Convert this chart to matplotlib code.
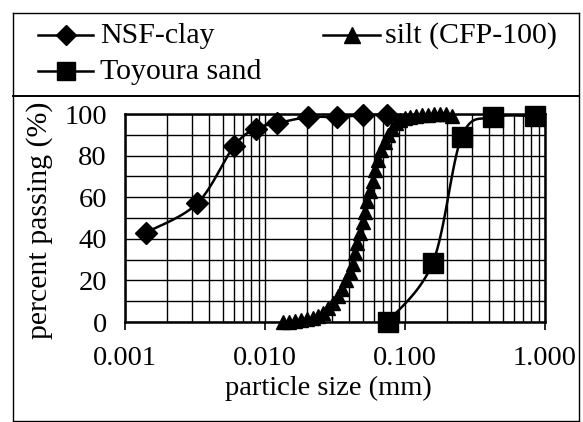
import numpy as np
import matplotlib
matplotlib.use("Agg")
import matplotlib.pyplot as plt
from matplotlib.lines import Line2D
from matplotlib.ticker import FixedLocator, FixedFormatter, NullFormatter

# ---------------- data ----------------
clay_size = [0.00141, 0.00328, 0.0060, 0.0086, 0.0121, 0.0204, 0.0328, 0.0499, 0.0740]
clay_pass = [43.0, 57.0, 84.5, 93.0, 95.5, 98.5, 98.5, 99.5, 99.5]

silt_size = [0.01345, 0.01484, 0.01637, 0.01806, 0.01993, 0.02202, 0.02393, 0.02597,
             0.02818, 0.03060, 0.03322, 0.03548, 0.03791, 0.04016, 0.04218, 0.04394,
             0.04578, 0.04773, 0.04972, 0.05179, 0.05396, 0.05623, 0.05860, 0.06105,
             0.06412, 0.06745, 0.07142, 0.07563, 0.08073, 0.08623, 0.09209, 0.1000,
             0.1086, 0.1199, 0.1322, 0.1459, 0.1611, 0.1778, 0.1963, 0.2169]
silt_pass = [0.0, 0.0, 0.5, 1.0, 1.5, 2.0, 3.0, 4.5,
             6.5, 9.0, 12.5, 16.0, 20.0, 24.0, 28.0, 33.0,
             38.0, 43.0, 48.0, 53.0, 58.0, 63.0, 68.0, 73.0,
             78.0, 82.5, 86.5, 90.0, 93.0, 95.5, 97.0, 98.0,
             98.5, 99.0, 99.5, 99.5, 100.0, 100.0, 100.0, 99.0]

sand_size = [0.075, 0.158, 0.254, 0.423, 0.850]
sand_pass = [0.0, 28.6, 89.0, 98.4, 99.0]

x_ticks = [0.001, 0.01, 0.1, 1.0]
x_tick_labels = ["0.001", "0.010", "0.100", "1.000"]
y_ticks = [0, 20, 40, 60, 80, 100]
y_tick_labels = ["0", "20", "40", "60", "80", "100"]
series_names = ["NSF-clay", "silt (CFP-100)", "Toyoura sand"]

# ---------------- figure ----------------
W, H = 583, 422
plt.rcParams['font.family'] = ['Liberation Serif', 'DejaVu Serif']
fig = plt.figure(figsize=(W / 100, H / 100), dpi=100)

def fx(x):
    return x / W

def fy(y):
    return 1 - y / H

ax_l, ax_r, ax_t, ax_b = 125, 545, 114, 322
ax = fig.add_axes([fx(ax_l), fy(ax_b), (ax_r - ax_l) / W, (ax_b - ax_t) / H])
ax.set_xscale('log')
ax.set_xlim(0.001, 1.0)
ax.set_ylim(0, 100)

AXW, AXH = ax_r - ax_l, ax_b - ax_t

def smooth(xs, ys, n=30):
    # Catmull-Rom (Excel-like smoothing) computed in pixel-like space
    U = (np.log10(np.asarray(xs)) + 3) * AXW / 3.0
    V = np.asarray(ys) * AXH / 100.0
    P = np.column_stack([U, V])
    P = np.vstack([P[0], P, P[-1]])
    out = []
    t = np.linspace(0, 1, n)
    for i in range(1, len(P) - 2):
        p0, p1, p2, p3 = P[i - 1], P[i], P[i + 1], P[i + 2]
        c1 = p1 + (p2 - p0) / 6.0
        c2 = p2 - (p3 - p1) / 6.0
        seg = ((1 - t)[:, None] ** 3 * p1 + 3 * ((1 - t) ** 2 * t)[:, None] * c1
               + 3 * ((1 - t) * t ** 2)[:, None] * c2 + (t ** 3)[:, None] * p2)
        out.append(seg)
    S = np.vstack(out)
    return 10 ** (S[:, 0] * 3.0 / AXW - 3), S[:, 1] * 100.0 / AXH

lw = 1.8
for xs, ys, mk, ms in [(clay_size, clay_pass, 'D', 11.5),
                       (silt_size, silt_pass, '^', 10.5),
                       (sand_size, sand_pass, 's', 15)]:
    sx, sy = smooth(xs, ys)
    ax.plot(sx, sy, color='black', lw=lw, zorder=3, clip_on=False)
    ax.plot(xs, ys, linestyle='none', marker=mk, ms=ms, color='black',
            mec='black', zorder=4, clip_on=False)

# grid
ax.xaxis.set_major_locator(FixedLocator(x_ticks))
ax.xaxis.set_major_formatter(FixedFormatter(x_tick_labels))
ax.xaxis.set_minor_formatter(NullFormatter())
ax.yaxis.set_major_locator(FixedLocator(y_ticks))
ax.yaxis.set_major_formatter(FixedFormatter(y_tick_labels))
ax.yaxis.set_minor_locator(FixedLocator([10, 30, 50, 70, 90]))
ax.grid(True, which='both', color='black', lw=1.0)
ax.set_axisbelow(True)
for s in ax.spines.values():
    s.set_linewidth(1.8)
ax.tick_params(axis='x', which='major', direction='out', length=6, width=1.2,
               labelsize=20.5, pad=11)
ax.tick_params(axis='x', which='minor', length=0)
ax.tick_params(axis='y', which='both', length=0, labelsize=20.5, pad=13)

fig.text(fx(328), fy(388), "particle size (mm)", ha='center', va='center', fontsize=20.5)
fig.text(fx(40), fy(220), "percent passing (%)", ha='center', va='center',
         rotation=90, fontsize=21.5)

# outer frame and legend separator
frame_kw = dict(color='black', lw=1.0, transform=fig.transFigure)
fig.add_artist(Line2D([fx(13), fx(579)], [fy(13), fy(13)], **frame_kw))
fig.add_artist(Line2D([fx(13), fx(13)], [fy(13), fy(421)], **frame_kw))
fig.add_artist(Line2D([fx(579), fx(579)], [fy(13), fy(421)], **frame_kw))
fig.add_artist(Line2D([fx(13), fx(579)], [fy(421), fy(421)], **frame_kw))
fig.add_artist(Line2D([fx(13), fx(579)], [fy(96), fy(96)], color='black', lw=1.4,
                      transform=fig.transFigure))

# legend (manual)
leg_entries = [(series_names[0], 'D', 10, 38, 93, 35, 100),
               (series_names[1], '^', 12, 323, 380, 35, 385),
               (series_names[2], 's', 13, 38, 93, 71, 100)]
for name, mk, ms, x0, x1, y, tx in leg_entries:
    fig.add_artist(Line2D([fx(x0), fx(x1)], [fy(y), fy(y)], color='black', lw=lw,
                          transform=fig.transFigure))
    fig.add_artist(Line2D([fx((x0 + x1) / 2)], [fy(y)], marker=mk, ms=ms, color='black',
                          linestyle='none', transform=fig.transFigure))
    fig.text(fx(tx), fy(y + 1), name, ha='left', va='center', fontsize=21.5)

fig.savefig("out.png", dpi=100)
